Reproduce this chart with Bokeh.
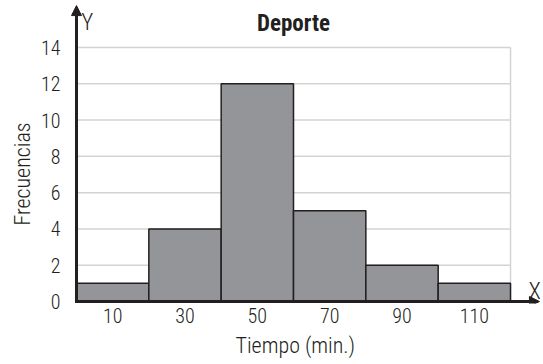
import numpy as np
from bokeh.plotting import figure
from bokeh.models import Range1d, FixedTicker, Arrow, NormalHead, Label, ColumnDataSource, Title
from bokeh.embed import file_html
from bokeh.resources import INLINE

# ---- data ----
centers = [10, 30, 50, 70, 90, 110]
freqs = [1, 4, 12, 5, 2, 1]
bin_width = 20
y_ticks = [0, 2, 4, 6, 8, 10, 12, 14]
x_ticks = centers
title_text = "Deporte"
x_label = "Tiempo (min.)"
y_label = "Frecuencias"

# ---- style ----
FONT = "'Roboto Condensed Light', 'Roboto Condensed', sans-serif"
FONT_B = "Roboto Condensed"
DARK = "#231f20"
BAR = "#939598"
GRID = "#d1d3d4"

x_min_edge = centers[0] - bin_width / 2
x_max_edge = centers[-1] + bin_width / 2
y_top = y_ticks[-1]

p = figure(width=543, height=364, output_backend="svg", toolbar_location=None,
           x_range=Range1d(-3.04, 129.12), y_range=Range1d(-0.11, 16.59),
           min_border_left=65, min_border_right=0, min_border_top=0, min_border_bottom=61)
p.outline_line_color = None
p.xgrid.grid_line_color = None
p.ygrid.grid_line_color = None

# grid lines over the bin extent
gy = [t for t in y_ticks if t > 0]
p.segment(x0=[x_min_edge] * len(gy), x1=[x_max_edge] * len(gy), y0=gy, y1=gy,
          line_color=GRID, line_width=1.5)
p.segment(x0=[x_max_edge], x1=[x_max_edge], y0=[0], y1=[y_top], line_color=GRID, line_width=1.5)

# bars
src = ColumnDataSource(dict(
    left=[c - bin_width / 2 for c in centers],
    right=[c + bin_width / 2 for c in centers],
    top=freqs, bottom=[0] * len(freqs)))
p.quad(left="left", right="right", top="top", bottom="bottom", source=src,
       fill_color=BAR, line_color=DARK, line_width=1.5)

# axes (tick labels only)
for ax in (p.xaxis, p.yaxis):
    ax.axis_line_color = None
    ax.major_tick_line_color = None
    ax.minor_tick_line_color = None
    ax.major_tick_out = 0
    ax.major_tick_in = 0
    ax.major_label_text_font = FONT
    ax.major_label_text_font_size = "20px"
    ax.major_label_text_color = DARK
p.xaxis.ticker = FixedTicker(ticks=x_ticks)
p.yaxis.ticker = FixedTicker(ticks=y_ticks)
p.xaxis.major_label_standoff = 4
p.yaxis.major_label_standoff = 5

# axis titles
p.add_layout(Title(text=x_label, align="left", offset=170, standoff=10, text_font=FONT,
                   text_font_size="22px", text_font_style="normal", text_color=DARK), "below")
p.add_layout(Title(text=y_label, align="left", offset=78, standoff=8, text_font=FONT,
                   text_font_size="22px", text_font_style="normal", text_color=DARK), "left")

# axis lines with arrows
p.add_layout(Arrow(end=NormalHead(size=10, fill_color=DARK, line_color=DARK, line_width=1),
                   x_start=0, y_start=0, x_end=128.0, y_end=0,
                   line_color=DARK, line_width=3))
p.add_layout(Arrow(end=NormalHead(size=10, fill_color=DARK, line_color=DARK, line_width=1),
                   x_start=0, y_start=-0.08, x_end=0, y_end=16.31,
                   line_color=DARK, line_width=3))

# texts inside the frame
p.add_layout(Label(x=60, y=15.32, text=title_text, text_font=FONT_B, text_font_style="bold",
                   text_font_size="23px", text_color=DARK, text_align="center",
                   text_baseline="alphabetic"))
p.add_layout(Label(x=1.3, y=15.38, text="Y", text_font=FONT, text_font_size="23px",
                   text_color=DARK, text_align="left", text_baseline="alphabetic"))
p.add_layout(Label(x=125.0, y=0.55, text="X", text_font=FONT, text_font_size="23px",
                   text_color=DARK, text_align="left", text_baseline="alphabetic"))

open("out.html", "w").write(file_html(p, INLINE))
